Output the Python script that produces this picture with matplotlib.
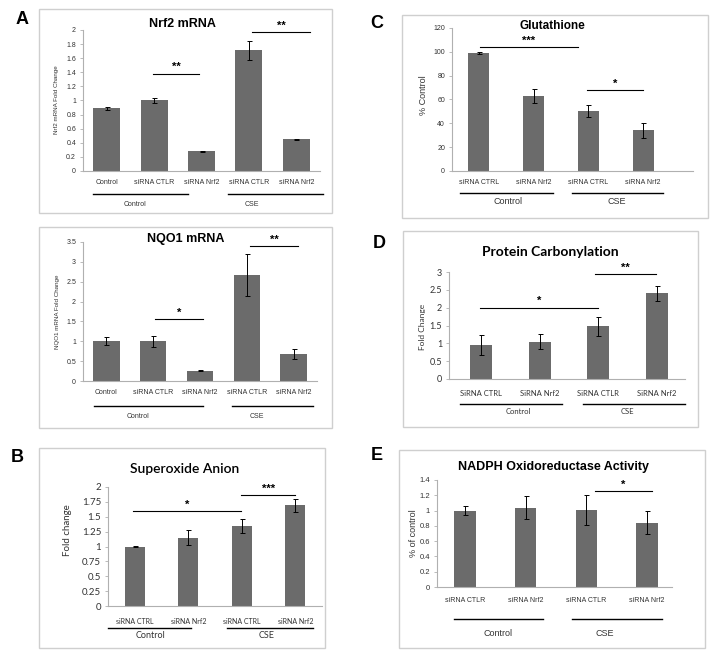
import matplotlib.pyplot as plt
from matplotlib.patches import Rectangle
from matplotlib.transforms import blended_transform_factory as blend

W, H = 714, 659

# ---- data ----
nrf2_cats = ["Control", "siRNA CTLR", "siRNA Nrf2", "siRNA CTLR", "siRNA Nrf2"]
nrf2_vals = [0.89, 1.00, 0.28, 1.71, 0.45]
nrf2_errs = [0.02, 0.03, 0.01, 0.14, 0.01]
nrf2_yticks = [0, 0.2, 0.4, 0.6, 0.8, 1, 1.2, 1.4, 1.6, 1.8, 2]

nqo1_cats = ["Control", "siRNA CTLR", "siRNA Nrf2", "siRNA CTLR", "siRNA Nrf2"]
nqo1_vals = [1.00, 1.00, 0.26, 2.67, 0.68]
nqo1_errs = [0.10, 0.14, 0.02, 0.52, 0.12]
nqo1_yticks = [0, 0.5, 1, 1.5, 2, 2.5, 3, 3.5]

sox_cats = ["siRNA CTRL", "siRNA Nrf2", "siRNA CTRL", "siRNA Nrf2"]
sox_vals = [1.00, 1.15, 1.35, 1.69]
sox_errs = [0.01, 0.13, 0.12, 0.11]
sox_yticks = [0, 0.25, 0.5, 0.75, 1, 1.25, 1.5, 1.75, 2]

gsh_cats = ["siRNA CTRL", "siRNA Nrf2", "siRNA CTRL", "siRNA Nrf2"]
gsh_vals = [99, 63, 50, 34]
gsh_errs = [1, 6, 5, 6]
gsh_yticks = [0, 20, 40, 60, 80, 100, 120]

pc_cats = ["SiRNA CTRL", "SiRNA Nrf2", "SiRNA CTLR", "SiRNA Nrf2"]
pc_vals = [0.95, 1.05, 1.48, 2.40]
pc_errs = [0.27, 0.22, 0.27, 0.20]
pc_yticks = [0, 0.5, 1, 1.5, 2, 2.5, 3]

nadph_cats = ["siRNA CTLR", "siRNA Nrf2", "siRNA CTLR", "siRNA Nrf2"]
nadph_vals = [1.00, 1.04, 1.01, 0.84]
nadph_errs = [0.06, 0.15, 0.20, 0.15]
nadph_yticks = [0, 0.2, 0.4, 0.6, 0.8, 1, 1.2, 1.4]

groups = ["Control", "CSE"]

BAR = "#6b6b6b"
AXC = "#b0b0b0"
ARIAL = "Liberation Sans"
CALIBRI = "Lato"

fig = plt.figure(figsize=(W / 100, H / 100), dpi=100)


def fy(y):
    return 1 - y / H


def panel(box, axpx, xlim, title, tpos, tsize, tweight, ylabel, ylpos, ylsize,
          cats, vals, errs, yticks, bw, ticky, tick_size, sigs, glines, gliney,
          glabels, glabely, gsize, font, ysize, letter, lpos):
    x0, y0, x1, y1 = box
    fig.patches.append(Rectangle((x0 / W, fy(y1)), (x1 - x0) / W, (y1 - y0) / H,
                                 transform=fig.transFigure, fill=False,
                                 edgecolor="#cfcfcf", lw=1.0))
    fig.text(lpos[0] / W, fy(lpos[1]), letter, fontsize=13, fontweight="bold",
             family=ARIAL, ha="center", va="center")
    l, t, r, b = axpx
    ax = fig.add_axes([l / W, fy(b), (r - l) / W, (b - t) / H])
    xs = list(range(len(vals)))
    ax.bar(xs, vals, width=bw, color=BAR, zorder=2)
    ax.errorbar(xs, vals, yerr=errs, fmt="none", ecolor="black", elinewidth=0.7,
                capsize=1.8, capthick=0.7, zorder=3)
    ax.set_xlim(*xlim)
    ax.set_ylim(yticks[0], yticks[-1])
    ax.set_yticks(yticks)
    ax.set_yticklabels(["{:g}".format(v) for v in yticks], fontsize=ysize,
                       family=font, color="#333333")
    ax.set_xticks([])
    for s in ["top", "right"]:
        ax.spines[s].set_visible(False)
    for s in ["left", "bottom"]:
        ax.spines[s].set_color(AXC)
        ax.spines[s].set_linewidth(0.8)
    ax.tick_params(axis="y", length=2, width=0.6, color=AXC, pad=3)
    ax.patch.set_alpha(0)

    tr = blend(ax.transData, fig.transFigure)
    for x, c in zip(xs, cats):
        ax.text(x, fy(ticky), c, transform=tr, ha="center", va="center",
                fontsize=tick_size, family=font, color="#333333")
    for (a, c), gx in zip(glines, [0, 1]):
        ax.plot([a, c], [fy(gliney)] * 2, transform=tr, color="black", lw=1.0,
                clip_on=False)
    for gx, g in zip(glabels, groups):
        ax.text(gx, fy(glabely), g, transform=tr, ha="center", va="center",
                fontsize=gsize, family=font, color="#333333")
    for a, c, yv, lab in sigs:
        ax.plot([a, c], [yv, yv], color="black", lw=0.8, clip_on=False, zorder=4)
        ax.annotate(lab, ((a + c) / 2, yv), xytext=(0, 1), textcoords="offset points",
                    ha="center", va="bottom", fontsize=8, fontweight="bold",
                    family=ARIAL, annotation_clip=False)
    fig.text(tpos[0] / W, fy(tpos[1]), title, ha="center", va="center",
             fontsize=tsize, fontweight=tweight, family=font if font == CALIBRI else ARIAL)
    fig.text(ylpos[0] / W, fy(ylpos[1]), ylabel, ha="center", va="center",
             rotation=90, fontsize=ylsize, family=font, color="#333333")
    return ax


# A - Nrf2 mRNA
panel(box=(39, 9, 332, 213), axpx=(83, 30, 320, 171), xlim=(-0.5, 4.5),
      title="Nrf2 mRNA", tpos=(182, 24), tsize=9, tweight="bold",
      ylabel="Nrf2 mRNA Fold Change", ylpos=(57, 100), ylsize=4.5,
      cats=nrf2_cats, vals=nrf2_vals, errs=nrf2_errs, yticks=nrf2_yticks, bw=0.57,
      ticky=182, tick_size=5, sigs=[(0.98, 1.95, 1.38, "**"), (3.07, 4.29, 1.97, "**")],
      glines=[(-0.29, 1.72), (2.56, 4.56)], gliney=194,
      glabels=[0.6, 3.07], glabely=205, gsize=5, font=ARIAL, ysize=5,
      letter="A", lpos=(22, 19))

# A - NQO1 mRNA
panel(box=(39, 227, 332, 428), axpx=(83, 242, 317, 381), xlim=(-0.5, 4.5),
      title="NQO1 mRNA", tpos=(186, 239), tsize=9, tweight="bold",
      ylabel="NQO1 mRNA Fold Change", ylpos=(58, 312), ylsize=4.5,
      cats=nqo1_cats, vals=nqo1_vals, errs=nqo1_errs, yticks=nqo1_yticks, bw=0.56,
      ticky=392, tick_size=5, sigs=[(1.04, 2.06, 1.55, "*"), (3.07, 4.09, 3.4, "**")],
      glines=[(-0.26, 2.06), (2.68, 4.41)], gliney=406,
      glabels=[0.68, 3.22], glabely=416, gsize=5, font=ARIAL, ysize=5,
      letter="", lpos=(22, 240))

# B - Superoxide Anion
panel(box=(39, 448, 325, 648), axpx=(108, 487, 322, 606), xlim=(-0.5, 3.5),
      title="Superoxide Anion", tpos=(185, 469), tsize=10, tweight="semibold",
      ylabel="Fold change", ylpos=(68, 530), ylsize=7,
      cats=sox_cats, vals=sox_vals, errs=sox_errs, yticks=sox_yticks, bw=0.37,
      ticky=621, tick_size=5, sigs=[(-0.03, 1.99, 1.6, "*"), (1.99, 3.0, 1.87, "***")],
      glines=[(-0.5, 1.05), (1.72, 3.33)], gliney=628,
      glabels=[0.29, 2.47], glabely=636, gsize=6.5, font=CALIBRI, ysize=7,
      letter="B", lpos=(17, 457))

# C - Glutathione
panel(box=(402, 15, 708, 218), axpx=(452, 28, 693, 171), xlim=(-0.49, 3.91),
      title="Glutathione", tpos=(552, 26), tsize=8.5, tweight="bold",
      ylabel="% Control", ylpos=(423, 95), ylsize=6.5,
      cats=gsh_cats, vals=gsh_vals, errs=gsh_errs, yticks=gsh_yticks, bw=0.38,
      ticky=183, tick_size=5, sigs=[(0.02, 1.81, 104, "***"), (1.98, 3.0, 68, "*")],
      glines=[(-0.35, 1.35), (1.7, 3.37)], gliney=193,
      glabels=[0.53, 2.52], glabely=201, gsize=6.5, font=ARIAL, ysize=5,
      letter="C", lpos=(377, 23))

# D - Protein Carbonylation
panel(box=(403, 231, 698, 427), axpx=(449, 272, 685, 379), xlim=(-0.55, 3.48),
      title="Protein Carbonylation", tpos=(550, 252), tsize=10, tweight="bold",
      ylabel="Fold Change", ylpos=(422, 327), ylsize=6,
      cats=pc_cats, vals=pc_vals, errs=pc_errs, yticks=pc_yticks, bw=0.375,
      ticky=393, tick_size=5.5, sigs=[(-0.02, 2.0, 2.0, "*"), (1.94, 2.98, 2.93, "**")],
      glines=[(-0.37, 1.38), (1.74, 3.48)], gliney=404,
      glabels=[0.63, 2.49], glabely=412, gsize=5.5, font=CALIBRI, ysize=6.5,
      letter="D", lpos=(379, 243))

# E - NADPH Oxidoreductase Activity
panel(box=(399, 450, 705, 648), axpx=(437, 480, 672, 587), xlim=(-0.46, 3.41),
      title="NADPH Oxidoreductase Activity", tpos=(554, 467), tsize=9, tweight="bold",
      ylabel="% of control", ylpos=(413, 533), ylsize=6.5,
      cats=nadph_cats, vals=nadph_vals, errs=nadph_errs, yticks=nadph_yticks, bw=0.35,
      ticky=601, tick_size=5, sigs=[(2.14, 3.08, 1.25, "*")],
      glines=[(-0.18, 1.29), (1.76, 3.25)], gliney=619,
      glabels=[0.54, 2.31], glabely=634, gsize=6.5, font=ARIAL, ysize=5.5,
      letter="E", lpos=(377, 455))

fig.savefig("out.png", dpi=100)
